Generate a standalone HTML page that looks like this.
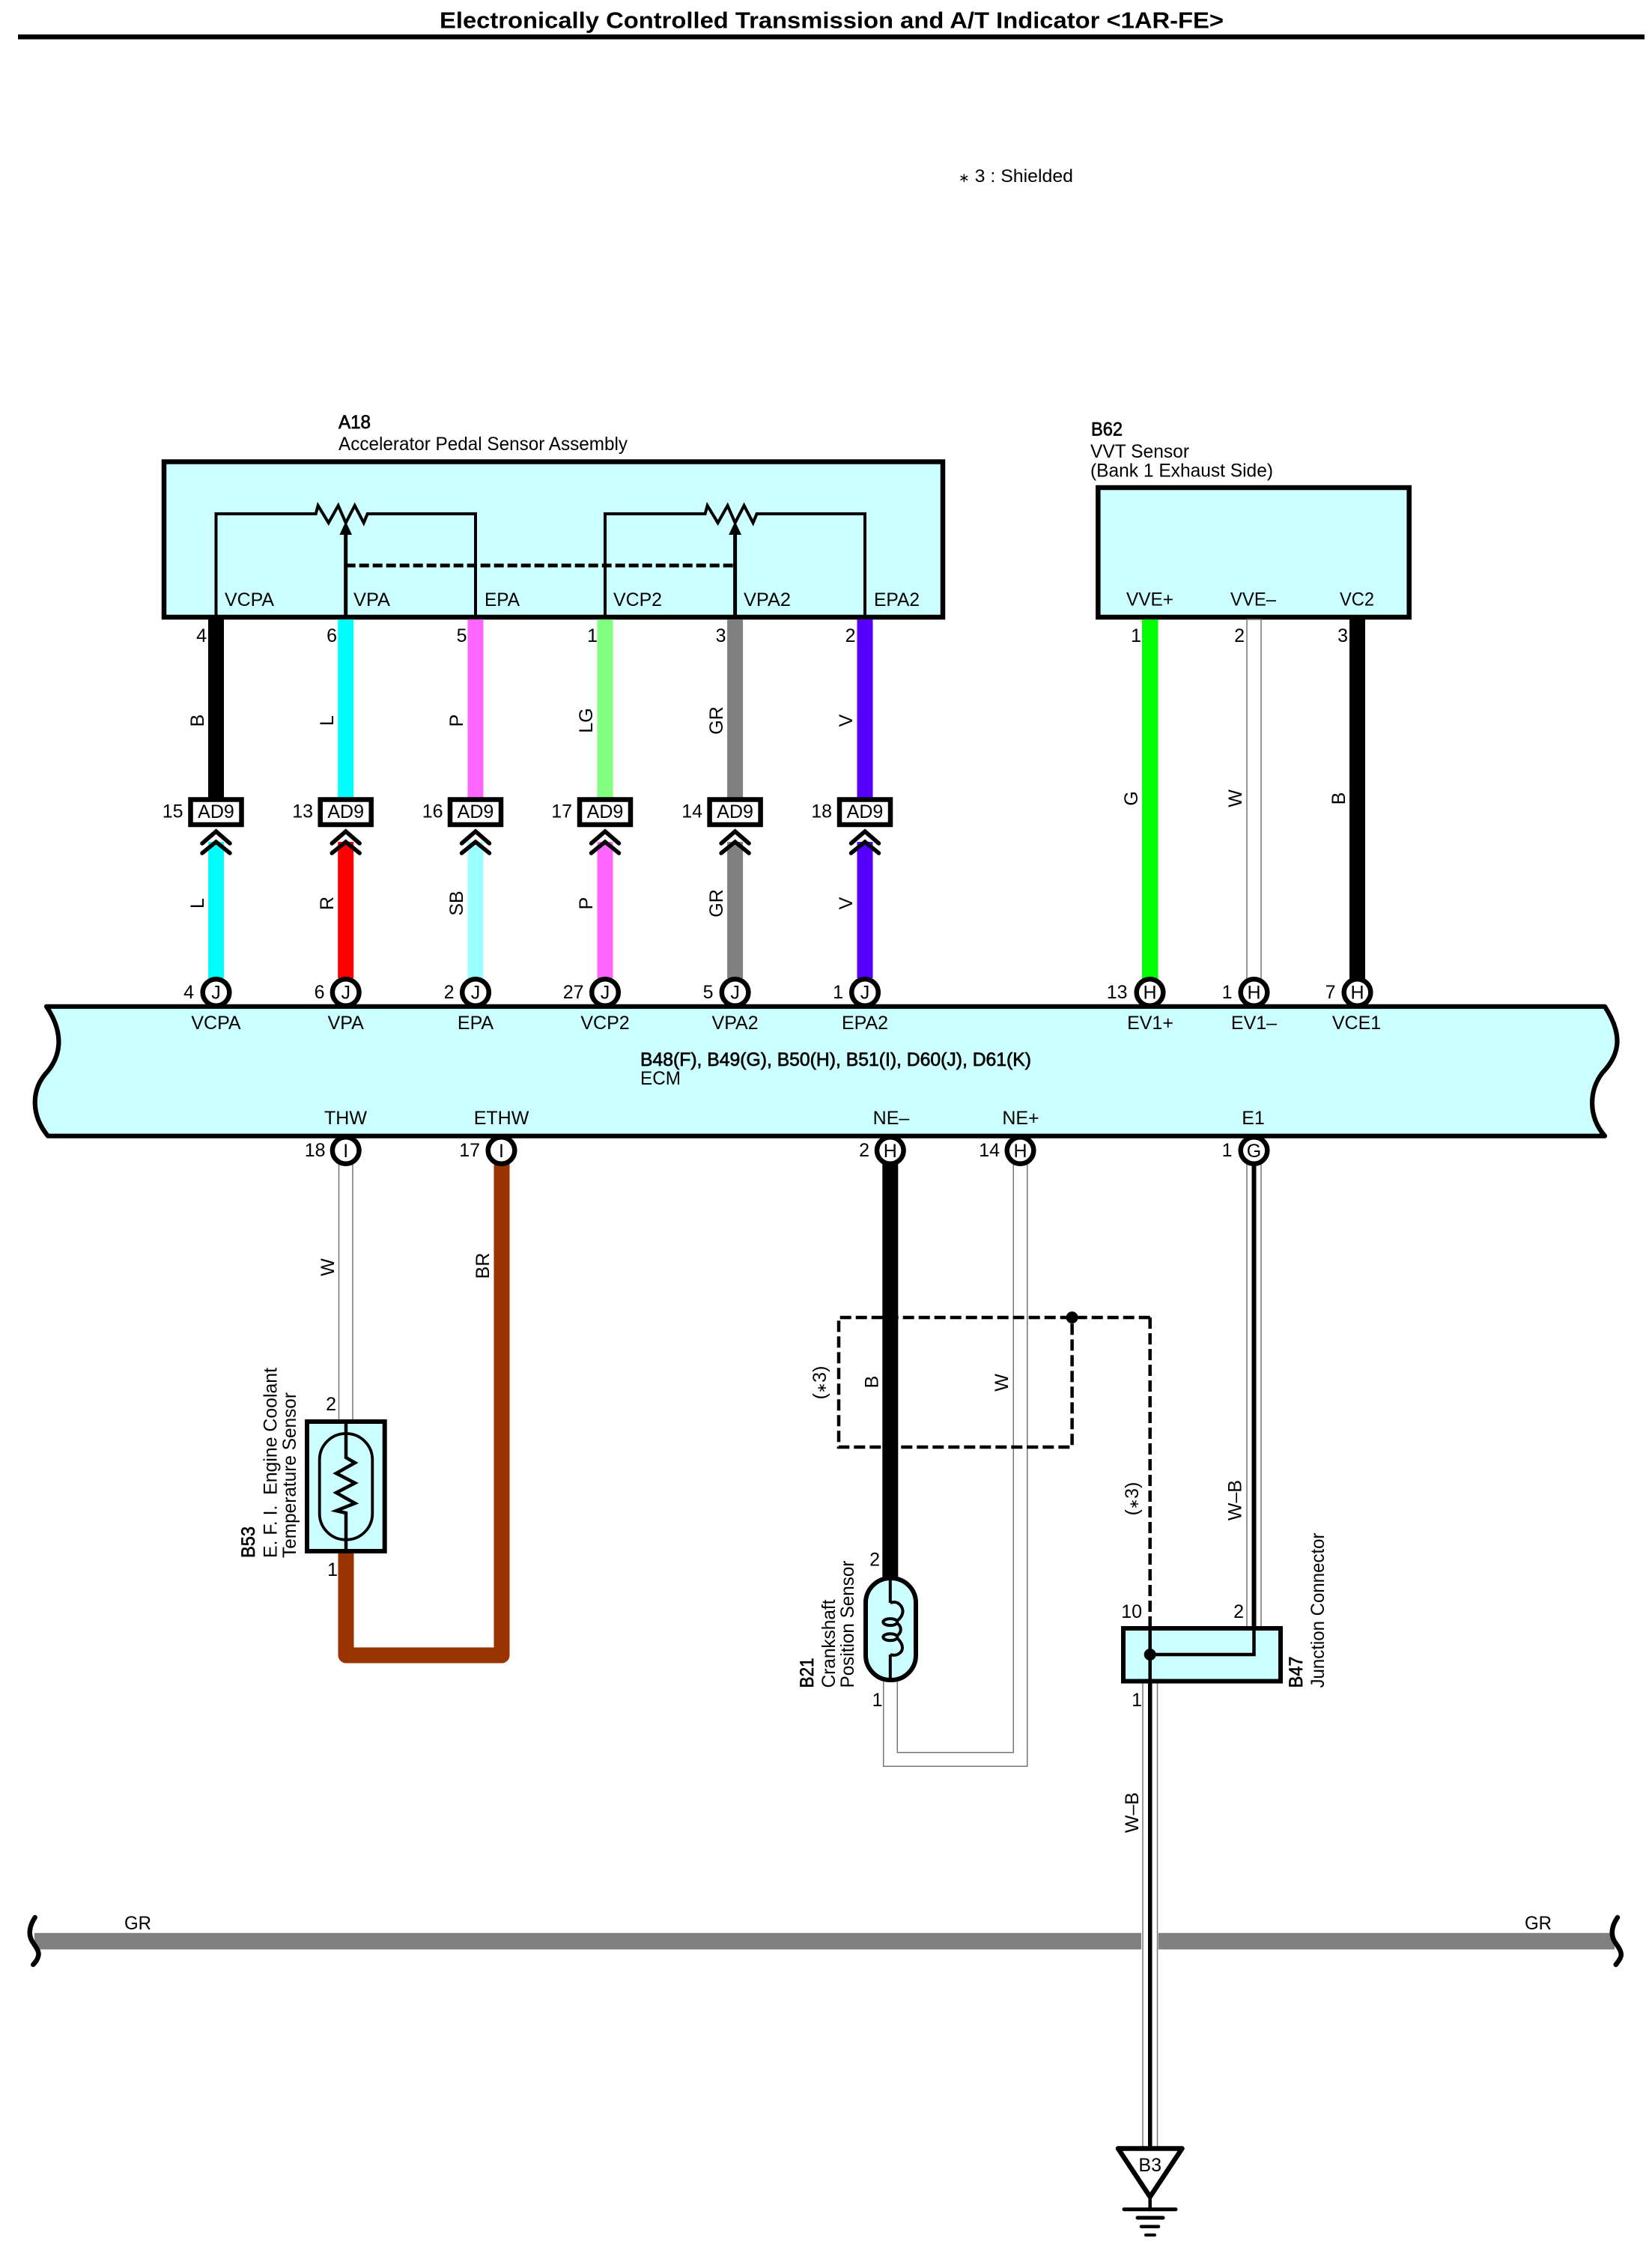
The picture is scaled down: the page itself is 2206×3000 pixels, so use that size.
<!DOCTYPE html>
<html><head><meta charset="utf-8"><title>Electronically Controlled Transmission and A/T Indicator</title>
<style>
html,body{margin:0;padding:0;background:#fff}
svg{display:block}
text{font-family:"Liberation Sans",sans-serif;font-size:25px;fill:#000}
.m{text-anchor:middle}
.e{text-anchor:end}
.b{font-weight:bold;stroke:none}
.h{stroke:#000;stroke-width:.7}
.s{font-size:17px}
</style></head><body>
<svg width="2206" height="3000" viewBox="0 0 2206 3000" xmlns="http://www.w3.org/2000/svg">
<rect width="2206" height="3000" fill="#fff"/>
<!-- title -->
<text x="587" y="37.5" class="b" style="font-size:31px" textLength="1047" lengthAdjust="spacingAndGlyphs">Electronically Controlled Transmission and A/T Indicator &lt;1AR-FE&gt;</text>
<rect x="24" y="46" width="2172" height="6.5" fill="#000"/>
<text x="1280" y="243" style="font-size:24px" textLength="153" lengthAdjust="spacingAndGlyphs"><tspan class="s">∗</tspan> 3 : Shielded</text>

<!-- A18 -->
<text x="452" y="572" class="h" textLength="43" lengthAdjust="spacingAndGlyphs">A18</text>
<text x="452" y="601" textLength="386" lengthAdjust="spacingAndGlyphs">Accelerator Pedal Sensor Assembly</text>
<rect x="219" y="616.5" width="1040" height="207.5" fill="#ccffff" stroke="#000" stroke-width="6.5"/>
<g fill="none" stroke="#000" stroke-width="4" stroke-linejoin="miter">
<path d="M288.5 824V686H421.7L424.7 675L438.7 698L451.7 675L461.7 698L473.7 675L485.7 698L490.7 686H635V824"/>
<path d="M808 824V686H941.6L944.6 675L958.6 698L971.6 675L981.6 698L993.6 675L1005.6 698L1010.6 686H1155V824"/>
<path d="M461.7 824V710M981.6 824V710" stroke-width="5"/>
<path d="M461.7 755H981.6" stroke-width="5" stroke-dasharray="13 5"/>
</g>
<path d="M461.7 696L470 714H453.4ZM981.6 696L990 714H973.2Z" fill="#000"/>
<text x="300" y="809" textLength="66" lengthAdjust="spacingAndGlyphs">VCPA</text>
<text x="472" y="809" textLength="49" lengthAdjust="spacingAndGlyphs">VPA</text>
<text x="647" y="809" textLength="47" lengthAdjust="spacingAndGlyphs">EPA</text>
<text x="819" y="809" textLength="65" lengthAdjust="spacingAndGlyphs">VCP2</text>
<text x="993" y="809" textLength="63" lengthAdjust="spacingAndGlyphs">VPA2</text>
<text x="1167" y="809" textLength="61" lengthAdjust="spacingAndGlyphs">EPA2</text>

<!-- B62 -->
<text x="1457" y="581.5" class="h" textLength="42" lengthAdjust="spacingAndGlyphs">B62</text>
<text x="1456" y="611" textLength="132" lengthAdjust="spacingAndGlyphs">VVT Sensor</text>
<text x="1456" y="636.5" textLength="244" lengthAdjust="spacingAndGlyphs">(Bank 1 Exhaust Side)</text>
<rect x="1466.3" y="651" width="415.4" height="173" fill="#ccffff" stroke="#000" stroke-width="6.5"/>
<text x="1504" y="808.5" textLength="63" lengthAdjust="spacingAndGlyphs">VVE+</text>
<text x="1643" y="808.5" textLength="61" lengthAdjust="spacingAndGlyphs">VVE–</text>
<text x="1789" y="808.5" textLength="46" lengthAdjust="spacingAndGlyphs">VC2</text>

<!-- upper wires -->
<rect x="278" y="827" width="21" height="239" fill="#000"/>
<rect x="451.2" y="827" width="21" height="239" fill="#00ffff"/>
<rect x="624.5" y="827" width="21" height="239" fill="#ff66ff"/>
<rect x="797.5" y="827" width="21" height="239" fill="#80ff80"/>
<rect x="971.1" y="827" width="21" height="239" fill="#808080"/>
<rect x="1144.5" y="827" width="21" height="239" fill="#5500ff"/>
<!-- lower wires -->
<rect x="278" y="1124" width="21" height="182" fill="#00ffff"/>
<rect x="451.2" y="1124" width="21" height="182" fill="#ff0000"/>
<rect x="624.5" y="1124" width="21" height="182" fill="#99ffff"/>
<rect x="797.5" y="1124" width="21" height="182" fill="#ff66ff"/>
<rect x="971.1" y="1124" width="21" height="182" fill="#808080"/>
<rect x="1144.5" y="1124" width="21" height="182" fill="#5500ff"/>
<!-- B62 wires -->
<rect x="1525" y="827" width="21.5" height="480" fill="#00ff00"/>
<rect x="1665" y="827" width="19" height="480" fill="#fff" stroke="#777" stroke-width="1.5"/>
<rect x="1802" y="827" width="21" height="480" fill="#000"/>

<!-- connectors AD9 -->
<g fill="#fff" stroke="#000" stroke-width="6.5">
<rect x="254.5" y="1067.5" width="68" height="33.5"/>
<rect x="427.7" y="1067.5" width="68" height="33.5"/>
<rect x="601" y="1067.5" width="68" height="33.5"/>
<rect x="774" y="1067.5" width="68" height="33.5"/>
<rect x="947.6" y="1067.5" width="68" height="33.5"/>
<rect x="1121" y="1067.5" width="68" height="33.5"/>
</g>
<text x="288.5" y="1092" class="m">AD9</text><text x="461.7" y="1092" class="m">AD9</text><text x="635" y="1092" class="m">AD9</text><text x="808" y="1092" class="m">AD9</text><text x="981.6" y="1092" class="m">AD9</text><text x="1155" y="1092" class="m">AD9</text>
<text x="244.5" y="1091.5" class="e">15</text><text x="418" y="1091.5" class="e">13</text><text x="591.5" y="1091.5" class="e">16</text><text x="764" y="1091.5" class="e">17</text><text x="938" y="1091.5" class="e">14</text><text x="1111" y="1091.5" class="e">18</text>
<!-- chevrons -->
<g fill="none" stroke="#000" stroke-width="5.5" stroke-linecap="round">
<path d="M270 1126L288.5 1110L307 1126M270 1139L288.5 1124L307 1139"/>
<path d="M443.2 1126L461.7 1110L480.2 1126M443.2 1139L461.7 1124L480.2 1139"/>
<path d="M616.5 1126L635 1110L653.5 1126M616.5 1139L635 1124L653.5 1139"/>
<path d="M789.5 1126L808 1110L826.5 1126M789.5 1139L808 1124L826.5 1139"/>
<path d="M963.1 1126L981.6 1110L1000.1 1126M963.1 1139L981.6 1124L1000.1 1139"/>
<path d="M1136.5 1126L1155 1110L1173.5 1126M1136.5 1139L1155 1124L1173.5 1139"/>
</g>
<!-- pin numbers top -->
<text x="276" y="857" class="e">4</text><text x="450" y="857" class="e">6</text><text x="623.5" y="857" class="e">5</text><text x="798" y="857" class="e">1</text><text x="969.5" y="857" class="e">3</text><text x="1142.5" y="857" class="e">2</text>
<text x="1524" y="857" class="e">1</text><text x="1662" y="857" class="e">2</text><text x="1800" y="857" class="e">3</text>
<!-- wire labels rotated -->
<text class="m" transform="translate(272,962) rotate(-90)">B</text>
<text class="m" transform="translate(445,962) rotate(-90)">L</text>
<text class="m" transform="translate(618,962) rotate(-90)">P</text>
<text class="m" transform="translate(791,962) rotate(-90)">LG</text>
<text class="m" transform="translate(965,962) rotate(-90)">GR</text>
<text class="m" transform="translate(1138,962) rotate(-90)">V</text>
<text class="m" transform="translate(272,1206) rotate(-90)">L</text>
<text class="m" transform="translate(445,1206) rotate(-90)">R</text>
<text class="m" transform="translate(618,1206) rotate(-90)">SB</text>
<text class="m" transform="translate(791,1206) rotate(-90)">P</text>
<text class="m" transform="translate(965,1206) rotate(-90)">GR</text>
<text class="m" transform="translate(1138,1206) rotate(-90)">V</text>
<text class="m" transform="translate(1519,1066) rotate(-90)">G</text>
<text class="m" transform="translate(1658,1066) rotate(-90)">W</text>
<text class="m" transform="translate(1796,1066) rotate(-90)">B</text>

<!-- lower section wires -->
<rect x="452.5" y="1550" width="18.5" height="348" fill="#fff" stroke="#777" stroke-width="1.5"/>
<path d="M462 2072V2210H670V1550" fill="none" stroke="#993300" stroke-width="21" stroke-linejoin="round"/>
<rect x="1178.3" y="1550" width="21" height="560" fill="#000"/>
<path d="M1189 2240V2349H1362.5V1550" fill="none" stroke="#777" stroke-width="20"/>
<path d="M1189 2240V2349H1362.5V1550" fill="none" stroke="#fff" stroke-width="17"/>
<rect x="1665" y="1550" width="19" height="624" fill="#fff" stroke="#777" stroke-width="1.5"/>
<rect x="1671.5" y="1550" width="6" height="624" fill="#000"/>

<!-- ECM circles -->
<g fill="#fff" stroke="#000" stroke-width="6.5">
<circle cx="288.5" cy="1325" r="17.8"/><circle cx="461.7" cy="1325" r="17.8"/><circle cx="635" cy="1325" r="17.8"/><circle cx="808" cy="1325" r="17.8"/><circle cx="981.6" cy="1325" r="17.8"/><circle cx="1155" cy="1325" r="17.8"/>
<circle cx="1535.5" cy="1325" r="17.8"/><circle cx="1674.5" cy="1325" r="17.8"/><circle cx="1812.5" cy="1325" r="17.8"/>
<circle cx="461.7" cy="1536" r="17.8"/><circle cx="669.5" cy="1536" r="17.8"/><circle cx="1188.8" cy="1536" r="17.8"/><circle cx="1362.5" cy="1536" r="17.8"/><circle cx="1674.5" cy="1536" r="17.8"/>
</g>
<!-- ECM body -->
<path d="M62 1343.8H2143C2165 1378 2166 1405 2140 1432C2122 1455 2120 1490 2143 1516.7H64C42 1490 40 1455 64 1430C84 1405 83 1375 62 1343.8Z" fill="#ccffff" stroke="#000" stroke-width="6.2" stroke-linejoin="round"/>
<!-- circle letters -->
<text x="288.5" y="1333.5" class="m">J</text><text x="461.7" y="1333.5" class="m">J</text><text x="635" y="1333.5" class="m">J</text><text x="808" y="1333.5" class="m">J</text><text x="981.6" y="1333.5" class="m">J</text><text x="1155" y="1333.5" class="m">J</text>
<text x="1535.5" y="1333.5" class="m">H</text><text x="1674.5" y="1333.5" class="m">H</text><text x="1812.5" y="1333.5" class="m">H</text>
<text x="461.7" y="1545" class="m">I</text><text x="669.5" y="1545" class="m">I</text><text x="1188.8" y="1545" class="m">H</text><text x="1362.5" y="1545" class="m">H</text><text x="1674.5" y="1545" class="m">G</text>
<!-- circle numbers -->
<text x="259" y="1333" class="e">4</text><text x="433.5" y="1333" class="e">6</text><text x="606.5" y="1333" class="e">2</text><text x="779.5" y="1333" class="e">27</text><text x="952.5" y="1333" class="e">5</text><text x="1126" y="1333" class="e">1</text>
<text x="1505.5" y="1333" class="e">13</text><text x="1645.5" y="1333" class="e">1</text><text x="1783.5" y="1333" class="e">7</text>
<text x="434.5" y="1544" class="e">18</text><text x="641" y="1544" class="e">17</text><text x="1161" y="1544" class="e">2</text><text x="1335" y="1544" class="e">14</text><text x="1645.5" y="1544" class="e">1</text>
<!-- ECM labels -->
<text x="288.5" y="1374" class="m">VCPA</text><text x="461.7" y="1374" class="m">VPA</text><text x="635" y="1374" class="m">EPA</text><text x="808" y="1374" class="m">VCP2</text><text x="981.6" y="1374" class="m">VPA2</text><text x="1155" y="1374" class="m">EPA2</text>
<text x="1536" y="1374" class="m">EV1+</text><text x="1674.5" y="1374" class="m">EV1–</text><text x="1811.5" y="1374" class="m">VCE1</text>
<text x="855" y="1423" class="h" textLength="522" lengthAdjust="spacingAndGlyphs">B48(F), B49(G), B50(H), B51(I), D60(J), D61(K)</text>
<text x="855" y="1448" textLength="54" lengthAdjust="spacingAndGlyphs">ECM</text>
<text x="461.5" y="1501" class="m">THW</text><text x="669.5" y="1501" class="m">ETHW</text><text x="1190" y="1501" class="m">NE–</text><text x="1363" y="1501" class="m">NE+</text><text x="1673.5" y="1501" class="m">E1</text>

<text class="m" transform="translate(446,1692) rotate(-90)">W</text>
<text class="m" transform="translate(653,1690) rotate(-90)">BR</text>

<!-- B53 -->
<rect x="410" y="1898" width="103.7" height="173" fill="#ccffff" stroke="#000" stroke-width="6"/>
<rect x="426.7" y="1914" width="70.6" height="141.7" rx="35" fill="none" stroke="#000" stroke-width="3.8"/>
<path d="M462 1898V1946L474 1953L449 1967L474 1980L449 1993L474 2007L449 2017L462 2020V2071" fill="none" stroke="#000" stroke-width="4.5"/>
<text x="449" y="1883" class="e">2</text><text x="451" y="2104" class="e">1</text>
<text class="h" transform="translate(340,2080) rotate(-90)" textLength="42" lengthAdjust="spacingAndGlyphs">B53</text>
<text transform="translate(369.5,2080) rotate(-90)" textLength="254" lengthAdjust="spacingAndGlyphs" xml:space="preserve">E. F. I.  Engine Coolant</text>
<text transform="translate(395,2080) rotate(-90)" textLength="221" lengthAdjust="spacingAndGlyphs">Temperature Sensor</text>

<!-- shielding -->
<g fill="none" stroke="#000" stroke-width="4.5">
<path d="M1535.7 1759H1120V1932H1431.6V1759" stroke-dasharray="15 6"/>
<path d="M1535.7 1759V2174" stroke-dasharray="15 6"/>
</g>
<circle cx="1431.6" cy="1759" r="8" fill="#000"/>
<text class="m" transform="translate(1103,1846) rotate(-90)">(<tspan class="s">∗</tspan>3)</text>
<text class="m" transform="translate(1172.5,1845) rotate(-90)">B</text>
<text class="m" transform="translate(1346,1846) rotate(-90)">W</text>
<text class="m" transform="translate(1520,2001) rotate(-90)">(<tspan class="s">∗</tspan>3)</text>
<text class="m" transform="translate(1657.5,2003) rotate(-90)">W–B</text>

<!-- B21 crank -->
<rect x="1156" y="2107" width="67" height="136" rx="33" fill="#ccffff" stroke="#000" stroke-width="6"/>
<g fill="none" stroke="#000" stroke-width="4">
<path d="M1188.8 2104V2140M1188.8 2209V2245"/>
<path d="M1188.8 2140C1200 2136 1206 2146 1205.5 2152C1205 2156 1203 2160 1199 2163"/>
<ellipse cx="1188.8" cy="2165.6" rx="9.5" ry="4.5"/>
<ellipse cx="1188.8" cy="2185.7" rx="9.5" ry="4.5"/>
<path d="M1199 2168C1204 2172 1204 2179 1199 2183"/>
<path d="M1199 2188C1203 2192 1205 2196 1205 2200C1205 2206 1198 2212 1188.8 2209"/>
</g>
<text x="1175" y="2090.5" class="e">2</text><text x="1178.5" y="2278" class="e">1</text>
<text class="h" transform="translate(1086,2253.5) rotate(-90)" textLength="40" lengthAdjust="spacingAndGlyphs">B21</text>
<text transform="translate(1115,2253.5) rotate(-90)" textLength="118" lengthAdjust="spacingAndGlyphs">Crankshaft</text>
<text transform="translate(1140,2253.5) rotate(-90)" textLength="170" lengthAdjust="spacingAndGlyphs">Position Sensor</text>

<!-- GR wire -->
<rect x="46" y="2580.7" width="2110" height="22" fill="#808080"/>
<path d="M46.7 2560C40 2570 37 2582 43 2592C49 2601 53 2606 51 2612C50 2617 47 2620 44.3 2623" fill="none" stroke="#000" stroke-width="6.5" stroke-linecap="round"/>
<path d="M2160 2560C2153 2570 2150 2582 2156 2592C2162 2601 2166 2606 2164.5 2612C2163 2617 2160 2620 2157.7 2623" fill="none" stroke="#000" stroke-width="6.5" stroke-linecap="round"/>
<text x="166" y="2576" textLength="36" lengthAdjust="spacingAndGlyphs">GR</text>
<text x="2036" y="2576" textLength="36" lengthAdjust="spacingAndGlyphs">GR</text>

<!-- lower W-B wire -->
<rect x="1524" y="2575" width="22.7" height="34" fill="#fff"/>
<rect x="1526" y="2245" width="19.5" height="625" fill="#fff" stroke="#777" stroke-width="1.5"/>
<rect x="1533" y="2245" width="5.5" height="625" fill="#000"/>
<text class="m" transform="translate(1520,2420) rotate(-90)">W–B</text>

<!-- B47 -->
<rect x="1500" y="2174" width="210" height="70.6" fill="#ccffff" stroke="#000" stroke-width="6"/>
<path d="M1535.7 2174V2245M1535.7 2209H1674.5V2174" fill="none" stroke="#000" stroke-width="4.5"/>
<circle cx="1535.7" cy="2209" r="8" fill="#000"/>
<text x="1525" y="2160" class="e">10</text><text x="1661" y="2160" class="e">2</text><text x="1525" y="2278" class="e">1</text>
<text class="h" transform="translate(1739,2253.5) rotate(-90)" textLength="42" lengthAdjust="spacingAndGlyphs">B47</text>
<text transform="translate(1768,2253.5) rotate(-90)" textLength="207" lengthAdjust="spacingAndGlyphs">Junction Connector</text>

<!-- ground -->
<path d="M1493 2868.5H1578.5L1535.7 2933Z" fill="#fff" stroke="#000" stroke-width="6.5" stroke-linejoin="round"/>
<text x="1535.7" y="2899" class="m">B3</text>
<g stroke="#000" stroke-linecap="round" fill="none">
<path d="M1535.7 2933V2950" stroke-width="4.5"/>
<path d="M1501 2949.7H1570" stroke-width="5"/>
<path d="M1519 2961H1553" stroke-width="5"/>
<path d="M1524 2972.7H1547" stroke-width="4.5"/>
<path d="M1530 2984H1542" stroke-width="4"/>
</g>
</svg>
</body></html>
